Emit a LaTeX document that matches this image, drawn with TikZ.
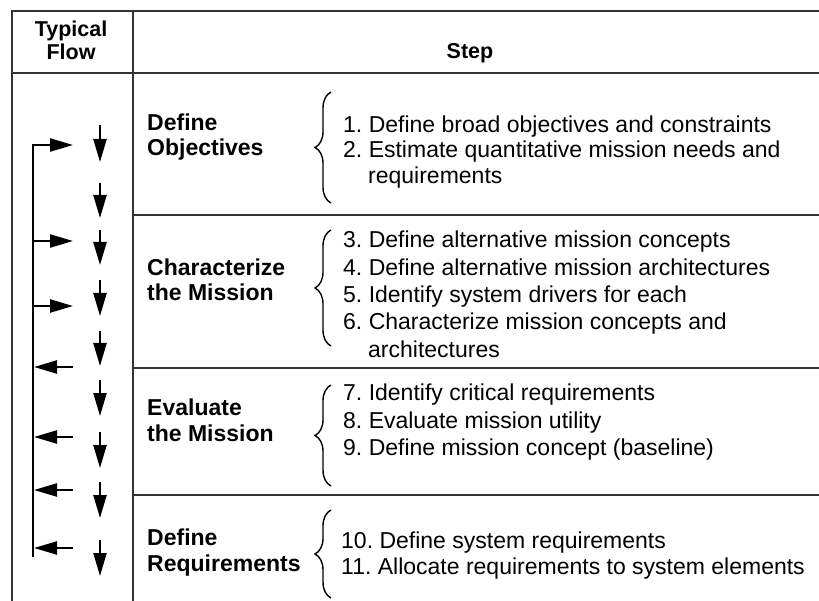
\documentclass[tikz,border=0pt]{standalone}
\usepackage{fontspec}
\setmainfont{Liberation Sans}
\frenchspacing
\usetikzlibrary{arrows.meta,decorations.pathreplacing}
\tikzset{
    stage/.style = {anchor=base west, inner sep=0, font=\bfseries\fontsize{23}{27}\selectfont},
    task/.style = {anchor=base west, inner sep=0, font=\fontsize{23}{27}\selectfont},
    head/.style = {inner sep=0, align=center, font=\bfseries\fontsize{21.5}{23}\selectfont},
    rule/.style = {line width=2.6pt, draw=black!80},
    flow/.style = {line width=2.4pt, -{Triangle[length=23pt,width=13pt]}},
    curly/.style = {line width=1.4pt, decorate, decoration={brace, amplitude=16pt}}
}
\begin{document}
\begin{tikzpicture}[x=1pt, y=-1pt]
    \useasboundingbox (0,0) rectangle (819,601);
    % frame of the table
    \draw[rule] (819,11) -- (12,11) -- (12,601);
    \draw[rule] (133,11) -- (133,601);
    \draw[rule] (12,73) -- (819,73);
    \foreach \y in {215,368,495}
        \draw[rule] (133,\y) -- (819,\y);
    % headings
    \node[head] (flowhead) at (71,40) {Typical\\Flow};
    \node[head] (stephead) at (470,53) {Step};
    % stages
    \node[stage] (obj a) at (147,131) {Define};
    \node[stage] (obj b) at (147,156) {Objectives};
    \node[stage] (char a) at (147,276) {Characterize};
    \node[stage] (char b) at (147,301) {the Mission};
    \node[stage] (eval a) at (147,415) {Evaluate};
    \node[stage] (eval b) at (147,441) {the Mission};
    \node[stage] (req a) at (147,545) {Define};
    \node[stage] (req b) at (147,571) {Requirements};
    % braces
    \draw[curly] (331,203) -- (331,92);
    \draw[curly] (331,346) -- (331,230);
    \draw[curly] (331,486) -- (331,385);
    \draw[curly] (331,598) -- (331,510);
    % tasks
    \node[task] (t1) at (343,133) {1. Define broad objectives and constraints};
    \node[task] (t2) at (343,158) {2. Estimate quantitative mission needs and};
    \node[task] (t2b) at (368,184) {requirements};
    \node[task] (t3) at (343,248) {3. Define alternative mission concepts};
    \node[task] (t4) at (343,276) {4. Define alternative mission architectures};
    \node[task] (t5) at (343,303) {5. Identify system drivers for each};
    \node[task] (t6) at (343,330) {6. Characterize mission concepts and};
    \node[task] (t6b) at (368,358) {architectures};
    \node[task] (t7) at (343,400) {7. Identify critical requirements};
    \node[task] (t8) at (343,428) {8. Evaluate mission utility};
    \node[task] (t9) at (343,455) {9. Define mission concept (baseline)};
    \node[task] (t10) at (341,548) {10. Define system requirements};
    \node[task] (t11) at (341,574) {11. Allocate requirements to system elements};
    % typical flow
    \foreach \top/\bot [count=\k] in {125/162,183/218,230/265,280/316,331/366,380/416,432/468,482/518,540/576} {
        \coordinate (d\k a) at (100,\top);
        \coordinate (d\k b) at (100,\bot);
        \draw[flow] (d\k a) -- (d\k b);
    }
    \coordinate (loop top) at (33,145);
    \coordinate (loop bot) at (33,557);
    \coordinate (fwd1) at (73,145);
    \draw[flow] (loop bot) -- (loop top) -- (fwd1);
    \foreach \y [count=\k from 2] in {241,306} {
        \coordinate (fwd\k) at (73,\y);
        \draw[flow] (33,\y) -- (fwd\k);
    }
    \foreach \y [count=\k] in {367,437,490,548} {
        \coordinate (back\k) at (73,\y);
        \draw[flow] (back\k) -- (34,\y);
    }
\end{tikzpicture}
\end{document}
